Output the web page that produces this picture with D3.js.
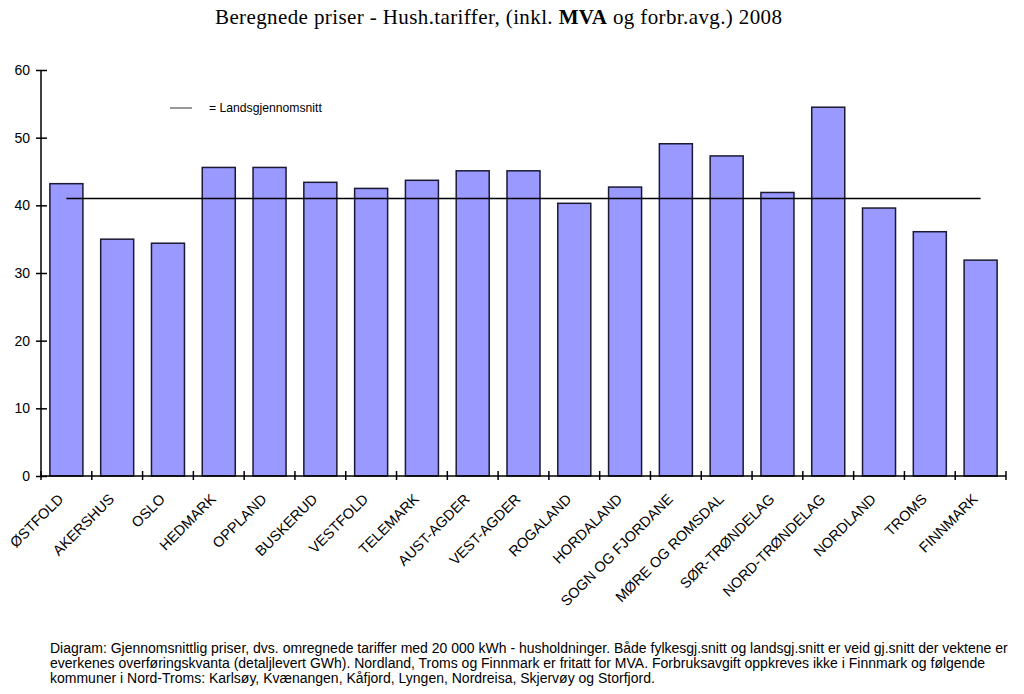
<!DOCTYPE html>
<html><head><meta charset="utf-8">
<script src="https://cdn.jsdelivr.net/npm/d3@7"></script>
<style>body{margin:0;background:#fff}svg{display:block}</style>
</head><body>
<script>
const categories = ["ØSTFOLD","AKERSHUS","OSLO","HEDMARK","OPPLAND","BUSKERUD","VESTFOLD","TELEMARK","AUST-AGDER","VEST-AGDER","ROGALAND","HORDALAND","SOGN OG FJORDANE","MØRE OG ROMSDAL","SØR-TRØNDELAG","NORD-TRØNDELAG","NORDLAND","TROMS","FINNMARK"];
const values = [43.2,35.0,34.4,45.6,45.6,43.4,42.5,43.7,45.1,45.1,40.3,42.7,49.1,47.3,41.9,54.5,39.6,36.1,31.9];
const average = 41.0;
const yTicks = [0,10,20,30,40,50,60];
const footnote = [
 "Diagram: Gjennomsnittlig priser, dvs. omregnede tariffer med 20 000 kWh - husholdninger. Både fylkesgj.snitt og landsgj.snitt er veid gj.snitt der vektene er",
 "everkenes overføringskvanta (detaljlevert GWh). Nordland, Troms og Finnmark er fritatt for MVA. Forbruksavgift oppkreves ikke i Finnmark og følgende",
 "kommuner i Nord-Troms: Karlsøy, Kvænangen, Kåfjord, Lyngen, Nordreisa, Skjervøy og Storfjord."
];
const titleParts = [["Beregnede priser - Hush.tariffer, (inkl. ",false],["MVA",true],[" og forbr.avg.) 2008",false]];

const W=1024,H=694;
const svg=d3.select("body").append("svg").attr("width",W).attr("height",H);
const x=d3.scaleBand().domain(categories).range([41,1006]).paddingInner(0.35).paddingOuter(0.175);
const y=d3.scaleLinear().domain([0,60]).range([476,70]);
const sans="Liberation Sans, Arial, sans-serif";

// title
const t=svg.append("text").attr("x",215).attr("y",24).attr("textLength",567).attr("lengthAdjust","spacing")
 .attr("font-family","Liberation Serif, Times New Roman, serif").attr("font-size",21).attr("fill","#000");
titleParts.forEach(p=>t.append("tspan").text(p[0]).attr("font-weight",p[1]?"bold":"normal"));

// bars
svg.append("g").selectAll("rect").data(values).join("rect")
 .attr("x",(d,i)=>x(categories[i])).attr("width",x.bandwidth())
 .attr("y",d=>y(d)).attr("height",d=>y(0)-y(d))
 .attr("fill","#9999ff").attr("stroke","#1a1a33").attr("stroke-width",1.5);

// average line
svg.append("line")
 .attr("x1",x(categories[0])+x.bandwidth()/2).attr("x2",x(categories[categories.length-1])+x.bandwidth()/2)
 .attr("y1",y(average)).attr("y2",y(average)).attr("stroke","#000").attr("stroke-width",1.5);

// y axis
const ya=svg.append("g").attr("transform","translate(41,0)")
 .call(d3.axisLeft(y).tickValues(yTicks).tickSize(5).tickPadding(6).tickFormat(d3.format("d")));
ya.select(".domain").attr("stroke","#000").attr("stroke-width",1.5).attr("d","M0,70V476");
ya.selectAll(".tick line").attr("x1",-5).attr("x2",6).attr("stroke-width",1.5);
ya.selectAll("text").attr("font-family",sans).attr("font-size",14).attr("fill","#000");

// x axis
const xa=svg.append("g").attr("transform","translate(0,476)");
xa.append("line").attr("x1",41).attr("x2",1006).attr("stroke","#000").attr("stroke-width",1.5);
const bounds=categories.map(c=>x(c)-x.step()*x.paddingInner()/2).concat([1006]);
xa.selectAll("line.tk").data(bounds).join("line").attr("class","tk")
 .attr("x1",d=>d).attr("x2",d=>d).attr("y1",-5).attr("y2",4).attr("stroke","#000").attr("stroke-width",1.5);
xa.selectAll("text").data(categories).join("text")
 .attr("transform",c=>`translate(${x(c)+x.bandwidth()/2-2},${24}) rotate(-45)`)
 .attr("text-anchor","end").attr("font-family",sans).attr("font-size",14.5)
 .attr("fill","#000").text(c=>c);

// legend
svg.append("line").attr("x1",170).attr("x2",192).attr("y1",108).attr("y2",108).attr("stroke","#333").attr("stroke-width",1);
svg.append("text").attr("x",209).attr("y",112).attr("font-family",sans)
 .attr("font-size",12.2).attr("fill","#000").text("= Landsgjennomsnitt");

// footnote
svg.append("g").selectAll("text").data(footnote).join("text")
 .attr("x",50).attr("y",(d,i)=>653+i*15).attr("font-family",sans)
 .attr("font-size",14).attr("fill","#000").text(d=>d);
</script>
</body></html>
